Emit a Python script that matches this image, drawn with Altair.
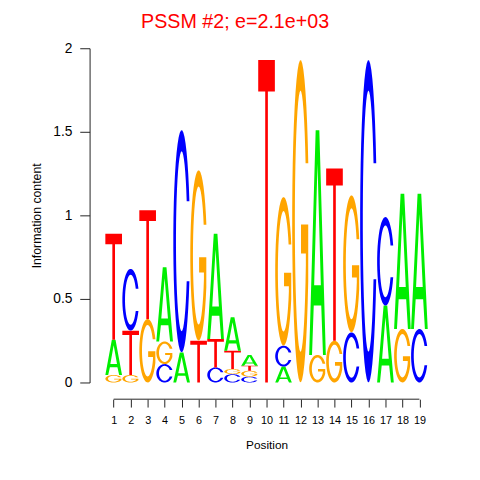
import altair as alt
import pandas as pd
import numpy as np

title_text = "PSSM #2; e=2.1e+03"
positions = list(range(1, 20))
# letters of each column, bottom -> top
stack_letters = [
    ["G", "A", "T"], ["G", "T", "C"], ["G", "T"], ["C", "G", "A"], ["A", "C"],
    ["T", "G"], ["C", "T", "A"], ["C", "G", "T", "A"], ["C", "G", "T", "A"], ["T"],
    ["A", "C", "G"], ["G"], ["G", "A"], ["G", "T"], ["C", "G"],
    ["C"], ["A", "C"], ["G", "A"], ["C", "A"],
]
# information content of each letter (bits), bottom -> top
stack_heights = [
    [0.045, 0.21, 0.635], [0.045, 0.265, 0.37], [0.38, 0.65], [0.11, 0.135, 0.445], [0.18, 1.33],
    [0.25, 1.02], [0.09, 0.17, 0.63], [0.05, 0.03, 0.11, 0.20], [0.035, 0.035, 0.03, 0.065], [1.93],
    [0.095, 0.125, 0.89], [1.93], [0.165, 1.345], [0.25, 1.03], [0.30, 0.82],
    [1.93], [0.46, 0.53], [0.32, 0.81], [0.32, 0.81],
]
y_ticks = [0, 0.5, 1, 1.5, 2]
base_colors = {"A": "#00EE00", "C": "#0000FF", "G": "#FFA500", "T": "#FF0000"}

# ---- layout ----
W, H = 360, 340
YMAX = 2.0
XDOM = [-0.418, 20.418]
step = W / (XDOM[1] - XDOM[0])
px_per_bit = H / YMAX
letter_w = 0.98 * step


# ---- letter glyphs in a unit box (x right, y up) ----
def arc(cx, cy, rx, ry, t0, t1, n=40):
    t = np.radians(np.linspace(t0, t1, n))
    return list(zip(cx + rx * np.cos(t), cy + ry * np.sin(t)))


def glyph(letter):
    if letter == "T":
        return [[(0, 1), (1, 1), (1, 0.902), (0.58, 0.902), (0.58, 0), (0.42, 0), (0.42, 0.902), (0, 0.902)]]
    if letter == "A":
        outer = [(0, 0), (0.39, 1), (0.61, 1), (1, 0), (0.83, 0), (0.725, 0.22),
                 (0.275, 0.22), (0.17, 0)]
        hole = [(0.70, 0.31), (0.5, 0.85), (0.30, 0.31)]
        return [outer, hole]
    ro_x, ro_y = 0.5, 0.5
    ri_x, ri_y = 0.34, 0.405
    yt = 0.18
    to = np.degrees(np.arcsin(yt / ro_y))
    ti = np.degrees(np.arcsin(yt / ri_y))
    if letter == "C":
        pts = arc(0.5, 0.5, ro_x, ro_y, to, 360 - to) + arc(0.5, 0.5, ri_x, ri_y, 360 - ti, ti)
        return [pts]
    if letter == "G":
        end_o = 338
        xo = 0.5 + ro_x * np.cos(np.radians(end_o))
        xs = 0.82
        ts = 360 - np.degrees(np.arccos((xs - 0.5) / ri_x))
        yi = 0.5 + ri_y * np.sin(np.radians(ts))
        pts = arc(0.5, 0.5, ro_x, ro_y, to, end_o)
        pts += [(xo, 0.49), (0.53, 0.49), (0.53, 0.40), (xs, 0.40), (xs, yi)]
        pts += arc(0.5, 0.5, ri_x, ri_y, ts, ti)
        return [pts]
    return []


def glyph_path(letter, h_bits):
    h = h_bits * px_per_bit
    parts = []
    for poly in glyph(letter):
        coords = [((x - 0.5) * letter_w, -y * h) for x, y in poly]
        s = "M" + " L".join(f"{x:.2f},{y:.2f}" for x, y in coords) + " Z"
        parts.append(s)
    return " ".join(parts)


rows = []
for pos, lets, hts in zip(positions, stack_letters, stack_heights):
    base = 0.0
    for l, h in zip(lets, hts):
        rows.append({"pos": pos, "letter": l, "base": base, "bits": h,
                     "path": glyph_path(l, h), "color": base_colors[l]})
        base += h
df = pd.DataFrame(rows)

FONT = "Liberation Sans"
xscale = alt.Scale(domain=XDOM, nice=False, zero=False)
yscale = alt.Scale(domain=[0, YMAX], nice=False, zero=False)

letters = alt.Chart(df).mark_point(filled=True, opacity=1, strokeWidth=0).encode(
    x=alt.X("pos:Q", scale=xscale,
            axis=alt.Axis(values=positions, tickCount=len(positions) + 5, format="d",
                          domain=False, grid=False,
                          tickSize=8, tickColor="#222", offset=17,
                          labelOverlap=False, labelFlush=False,
                          labelFontSize=11, labelFont=FONT, labelColor="#000", labelPadding=8,
                          title="Position", titleFont=FONT, titleFontSize=12,
                          titleFontWeight="normal", titleColor="#000", titlePadding=14)),
    y=alt.Y("base:Q", scale=yscale,
            axis=alt.Axis(values=y_ticks, tickCount=10, format="~g", grid=False, domainColor="#222",
                          tickColor="#222", tickSize=10, labelOverlap=False, labelFlush=False,
                          labelFontSize=14, labelFont=FONT, labelColor="#000", labelPadding=8,
                          title="Information content", titleFont=FONT, titleFontSize=12.5,
                          titleFontWeight="normal", titleColor="#000",
                          titleX=-54, titleY=170, titleAngle=270,
                          titleAlign="center", titleBaseline="middle")),
    shape=alt.Shape("path:N", scale=None, legend=None),
    color=alt.Color("color:N", scale=None, legend=None),
    size=alt.value(4),
)

axis_line = alt.Chart(pd.DataFrame({"a": [positions[0]], "b": [positions[-1]]})).mark_rule(
    color="#222", strokeWidth=1).encode(
    x=alt.X("a:Q", scale=xscale),
    x2="b:Q",
    y=alt.datum(-0.1),
)

title = alt.Chart(pd.DataFrame({"t": [title_text]})).mark_text(
    color="#FF0000", fontSize=20, font=FONT, baseline="top", align="center").encode(
    text="t:N",
    x=alt.value(148),
    y=alt.value(-37),
)

chart = alt.layer(letters, axis_line, title).properties(
    width=W, height=H,
    autosize=alt.AutoSizeParams(type="none"),
    padding={"left": 83, "top": 37, "right": 29, "bottom": 80},
).configure_view(stroke=None)

chart.save("out.html", embed_options={"renderer": "svg", "actions": False})
